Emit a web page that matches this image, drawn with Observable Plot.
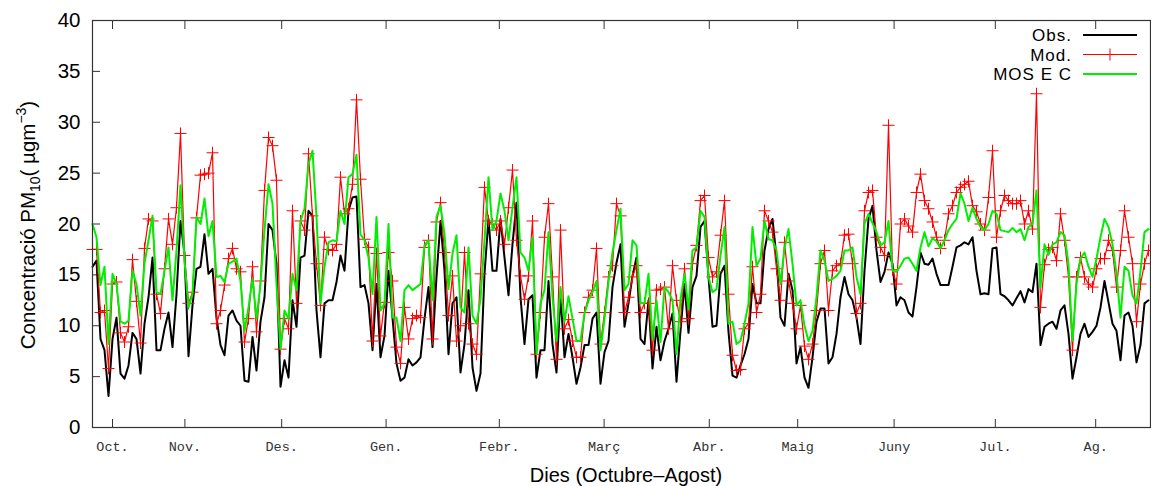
<!DOCTYPE html>
<html><head><meta charset="utf-8">
<script src="https://cdn.jsdelivr.net/npm/d3@7"></script>
<script src="https://cdn.jsdelivr.net/npm/@observablehq/plot@0.6"></script>
<style>body{margin:0;background:#fff} svg{display:block}</style>
</head><body><div id="chart"></div>
<script>
// Day index (0 = first day of the series) where each month label sits
const monthTicks = [5.0, 23.1, 47.3, 73.4, 101.7, 127.9, 154.2, 176.3, 200.4, 225.7, 250.8];
const monthLabels = ["Oct.", "Nov.", "Des.", "Gen.", "Febr.", "Març", "Abr.", "Maig", "Juny", "Jul.", "Ag."];
const yTicks = [0, 5, 10, 15, 20, 25, 30, 35, 40];
const seriesNames = ["Obs.", "Mod.", "MOS E C"];

const obs = [
15.8,16.4,8.7,7.6,3.1,8.7,10.8,5.3,4.8,6.1,9.3,8.7,5.3,10.2,12.8,16.7,7.6,7.6,9.7,11.3,7.9,13.1,20.3,17.1,7.0,12.0,15.6,15.8,19.0,15.1,
15.6,10.8,8.1,7.1,11.0,11.5,10.5,10.0,4.6,4.5,8.9,5.6,10.4,12.8,20.0,19.4,16.1,4.0,6.6,4.9,12.5,9.9,16.7,16.9,21.3,20.8,11.5,6.9,12.2,12.5,
12.5,14.3,16.9,15.4,21.3,22.6,22.7,13.8,14.0,12.2,7.6,14.1,6.9,9.0,15.4,10.8,6.3,4.6,4.9,6.7,6.1,6.4,6.9,10.7,13.8,7.9,14.8,20.3,15.4,7.2,
12.2,12.8,5.4,8.2,13.5,5.9,3.6,5.3,15.1,20.5,15.4,15.4,20.5,16.7,13.0,18.0,22.1,12.8,8.2,12.6,13.0,4.9,7.6,7.6,14.4,8.2,5.4,13.0,6.9,9.2,
6.9,4.3,5.9,8.1,8.1,10.7,11.3,4.3,7.4,8.5,13.8,16.2,18.0,9.9,12.2,14.9,16.7,8.7,8.2,12.5,5.8,9.9,6.6,8.5,9.7,11.2,4.5,9.5,14.1,9.3,
13.8,14.9,19.7,20.3,14.8,9.9,10.0,15.1,15.9,9.4,5.1,4.9,6.1,7.2,8.7,14.1,12.2,12.2,17.4,19.5,20.5,16.7,10.8,10.0,15.1,13.5,6.3,7.9,4.9,3.9,
6.9,10.4,11.7,11.7,6.3,6.9,9.2,12.8,14.8,13.1,12.5,10.8,8.2,15.4,20.5,21.8,17.4,14.3,15.3,17.2,16.1,12.0,12.8,12.5,11.3,10.9,13.8,17.2,16.1,16.0,
16.6,15.1,14.0,14.0,14.0,15.8,17.7,17.9,18.2,18.0,18.7,15.4,13.1,13.2,13.1,17.6,17.7,13.1,12.9,12.5,12.0,12.7,13.4,12.3,13.6,13.3,16.1,8.1,9.9,10.2,
10.4,9.7,11.5,12.0,9.2,4.8,6.9,9.2,10.2,8.9,9.4,10.0,11.8,14.4,12.3,10.2,9.5,6.6,11.0,11.3,10.0,6.4,8.1,12.2,12.5
];

const mod = [
17.5,17.5,11.3,11.5,5.8,14.1,14.3,9.3,8.4,9.9,16.5,12.4,8.3,17.6,20.5,20.3,13.1,11.2,15.6,20.5,18.0,21.6,28.9,16.9,12.2,13.3,20.6,24.8,24.9,25.0,
27.0,10.2,11.5,14.0,16.6,17.6,15.6,15.3,8.4,10.7,15.8,9.4,14.4,23.3,28.5,27.7,24.3,7.7,10.7,9.7,21.3,12.2,20.3,19.4,26.9,20.8,16.1,12.0,18.7,17.5,
17.4,18.0,24.6,21.0,21.5,23.9,32.2,24.4,18.5,17.7,8.5,17.1,9.0,12.3,17.2,14.4,7.9,6.3,11.8,8.7,10.7,11.0,10.8,17.7,18.4,8.7,20.2,22.1,17.2,11.0,
14.9,8.5,10.0,17.2,10.2,8.2,7.2,15.1,23.6,20.3,20.0,19.4,20.3,18.0,21.6,25.3,18.4,14.9,12.6,14.9,20.3,7.2,11.3,18.7,22.0,14.8,6.7,19.4,9.7,10.6,
8.5,6.9,6.9,11.3,12.8,13.5,17.6,8.2,11.3,14.8,15.9,22.0,20.8,11.3,12.8,14.8,15.9,11.3,12.2,12.2,7.6,13.5,13.6,13.8,9.7,15.9,12.5,10.4,15.6,10.7,
16.1,17.9,22.3,22.8,16.7,14.8,15.3,18.9,22.3,13.1,7.1,5.6,5.7,9.7,10.2,15.8,11.3,13.1,21.3,20.3,19.2,15.6,12.5,18.2,14.4,12.2,9.7,12.0,8.0,6.7,
8.2,11.5,16.1,17.4,11.5,15.4,15.9,16.1,18.9,19.0,16.1,11.2,12.2,21.3,23.1,23.3,18.7,17.7,16.9,29.7,15.5,14.1,20.0,20.5,19.8,19.2,23.1,24.9,22.3,21.5,
20.2,18.7,17.6,18.4,21.0,21.8,23.1,23.6,23.9,24.2,21.8,21.2,20.0,19.4,22.6,27.2,18.7,21.3,22.8,22.3,22.0,22.0,22.3,20.0,21.3,19.5,32.8,11.8,16.0,17.5,
17.7,16.4,21.0,18.4,14.8,7.6,14.8,16.7,14.8,14.1,13.8,15.6,16.6,16.6,18.4,17.4,13.8,17.4,21.3,18.7,16.1,10.4,14.1,16.1,17.4
];

const mos = [
20.0,18.7,14.0,15.8,8.2,15.1,14.1,10.4,10.2,10.5,15.4,14.1,11.0,16.1,18.4,20.8,13.3,13.1,15.4,17.7,12.5,17.4,23.8,16.4,11.8,13.1,20.7,20.0,22.5,18.8,
20.3,14.8,14.9,14.3,16.1,16.3,16.6,14.4,9.5,11.8,14.6,10.7,14.1,19.4,23.9,22.0,14.1,7.7,11.5,10.7,15.1,13.5,20.3,21.5,25.9,27.2,20.7,12.2,15.8,18.2,
18.4,18.3,21.3,20.0,24.6,24.9,26.8,19.0,18.4,16.7,13.1,20.7,11.5,12.2,20.0,10.8,10.8,8.5,13.5,14.0,13.5,13.8,14.1,17.9,18.4,12.5,20.7,21.8,19.0,13.6,
17.1,18.9,11.8,11.3,17.7,11.0,10.2,12.6,18.4,24.6,19.4,20.3,23.0,21.3,18.4,21.6,24.6,17.2,16.7,15.4,18.7,7.2,12.2,13.5,19.2,12.8,8.5,13.8,10.4,12.9,
10.7,8.5,8.5,11.2,12.5,13.3,14.4,7.6,10.7,14.3,17.2,19.4,21.5,13.5,14.1,18.4,17.9,12.2,12.2,15.1,8.7,12.5,8.4,13.8,13.3,12.5,7.2,12.6,15.1,11.6,
17.4,17.7,21.3,20.7,14.8,13.3,13.6,16.9,19.7,10.2,10.4,8.2,8.5,10.2,12.2,19.7,15.9,16.6,20.3,18.5,18.4,17.4,14.1,17.6,19.5,16.1,12.0,12.5,10.0,8.5,
9.5,12.8,17.4,16.4,14.4,14.6,14.9,15.4,17.4,17.4,17.7,14.8,13.1,20.0,21.0,20.1,19.2,17.9,18.2,20.3,15.4,15.3,15.9,16.6,16.7,16.1,15.4,17.7,19.2,17.8,
18.6,18.3,17.6,18.4,19.4,20.0,20.5,23.0,22.0,20.3,21.6,20.5,19.7,19.4,20.0,21.3,21.0,19.4,19.3,19.2,19.6,19.2,19.5,18.4,19.7,20.0,23.3,13.8,18.0,17.0,
18.0,18.2,19.2,18.9,16.1,8.5,14.1,16.6,17.2,15.8,14.8,16.6,18.7,20.5,19.7,18.0,15.1,10.8,15.8,15.4,13.0,12.2,15.4,19.2,19.5
];

const toRows = (vals) => vals.map((v, i) => ({day: i, v}));
const obsRows = toRows(obs), modRows = toRows(mod), mosRows = toRows(mos);

const cross = {
  draw(ctx, size) {
    const r = Math.sqrt(size / Math.PI);
    ctx.moveTo(-r, 0); ctx.lineTo(r, 0);
    ctx.moveTo(0, -r); ctx.lineTo(0, r);
  }
};

const FONT = "'Liberation Sans', Arial, Helvetica, sans-serif";
const MONO = "'Liberation Mono', 'DejaVu Sans Mono', monospace";

const chart = Plot.plot({
  width: 1151,
  height: 486,
  marginLeft: 92,
  marginRight: 1,
  marginTop: 20,
  marginBottom: 59,
  style: {background: "#fff", fontFamily: FONT, overflow: "visible"},
  x: {domain: [0, 264.5], label: null},
  y: {domain: [0, 40], label: null},
  marks: [
    Plot.axisY({ticks: yTicks, tickSize: -8, tickPadding: 20, fontSize: 20.5, fill: "#000", stroke: "#333", label: null}),
    Plot.axisX({ticks: monthTicks, tickFormat: (d, i) => monthLabels[i], tickSize: -8, tickPadding: 22,
      fontSize: 13.5, fontFamily: MONO, fill: "#333", stroke: "#333", label: null}),
    Plot.axisX({anchor: "top", ticks: monthTicks, tickFormat: () => "", tickSize: -8, stroke: "#333", label: null}),
    Plot.line(obsRows, {x: "day", y: "v", stroke: "#000", strokeWidth: 2}),
    Plot.line(modRows, {x: "day", y: "v", stroke: "#ff0000", strokeWidth: 1.2}),
    Plot.dot(modRows, {x: "day", y: "v", symbol: cross, r: 6, stroke: "#ff0000", strokeWidth: 1, fill: "none"}),
    Plot.line(mosRows, {x: "day", y: "v", stroke: "#00ee00", strokeWidth: 2}),
    Plot.frame({stroke: "#333", strokeWidth: 1.2})
  ]
});

document.getElementById("chart").appendChild(chart);

const svg = d3.select(chart);
// y-axis title with subscript / superscript
const yt = svg.append("text")
  .attr("transform", "translate(35,225) rotate(-90)")
  .attr("text-anchor", "middle")
  .attr("font-family", FONT)
  .attr("font-size", 20.5)
  .attr("fill", "#000");
yt.append("tspan").text("Concentració PM");
yt.append("tspan").attr("font-size", 14).attr("dy", 5).text("10");
yt.append("tspan").attr("dy", -5).text("( µgm");
yt.append("tspan").attr("font-size", 14).attr("dy", -9).text("−3");
yt.append("tspan").attr("dy", 9).text(")");

// x-axis title
svg.append("text")
  .attr("x", 626).attr("y", 482)
  .attr("text-anchor", "middle")
  .attr("font-family", FONT)
  .attr("font-size", 20)
  .attr("fill", "#000")
  .text("Dies (Octubre–Agost)");

// legend
const legendColors = ["#000", "#ff0000", "#00ee00"];
const legendWidths = [2, 1.2, 2];
seriesNames.forEach((name, k) => {
  const y = 35 + k * 19.5;
  svg.append("text")
    .attr("x", 1072).attr("y", y + 6)
    .attr("text-anchor", "end")
    .attr("font-family", FONT).attr("font-size", 17).attr("letter-spacing", 1)
    .attr("fill", "#000")
    .text(name);
  svg.append("line")
    .attr("x1", 1083).attr("x2", 1137).attr("y1", y).attr("y2", y)
    .attr("stroke", legendColors[k]).attr("stroke-width", legendWidths[k]);
  if (k === 1) {
    svg.append("path")
      .attr("d", `M${1110 - 6},${y}H${1110 + 6}M1110,${y - 6}V${y + 6}`)
      .attr("stroke", "#ff0000").attr("stroke-width", 1).attr("fill", "none");
  }
});
</script>
</body></html>
